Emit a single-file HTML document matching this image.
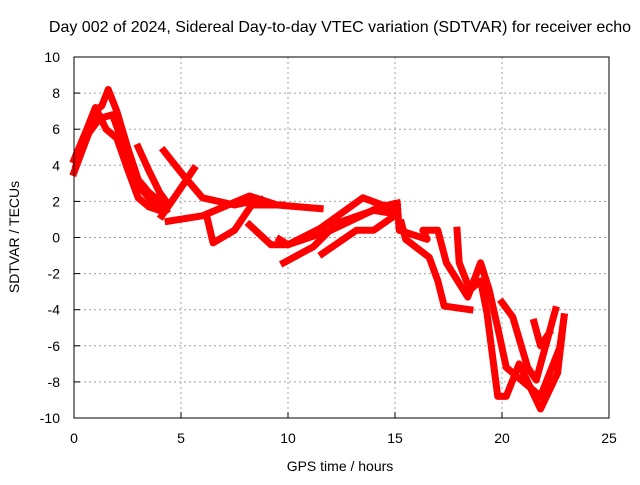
<!DOCTYPE html>
<html><head><meta charset="utf-8"><style>
body{margin:0;background:#fff}
svg text{font-family:"Liberation Sans",sans-serif;font-size:14px;fill:#000}
</style></head><body>
<svg id="c" width="640" height="480">
<text x="340" y="32" text-anchor="middle" style="font-size:16px">Day 002 of 2024, Sidereal Day-to-day VTEC variation (SDTVAR) for receiver echo</text>
<text x="340" y="471" text-anchor="middle">GPS time / hours</text>
<text transform="translate(19,237) rotate(-90)" text-anchor="middle">SDTVAR / TECUs</text>
<g id="grid"></g><g id="ticks"></g><g id="series"></g>
<rect x="74" y="57" width="535" height="361" fill="none" stroke="#000" stroke-width="1"/>
</svg>
<script>
const xTicks=[0,5,10,15,20,25];
const yTicks=[-10,-8,-6,-4,-2,0,2,4,6,8,10];
const trackA1=[[0,3.6],[0.5,5.2],[1,7],[1.3,7.3],[1.6,8.2],[2,7],[2.5,5],[3,3.2],[3.5,2.5],[4,2],[4.3,1.5]];
const trackA2=[[0,4.3],[0.6,6],[1,7.2],[1.5,6],[2,5.5],[2.5,3.8],[3,2.2],[3.5,1.7],[4,1.5]];
const trackA3=[[0.1,4],[0.7,5.8],[1.2,6.6],[1.8,6.8],[2.2,5.5],[2.7,4],[3.2,2.6],[3.8,1.8]];
const trackB=[[3.0,5.0],[3.5,3.7],[4.0,2.5],[4.3,2.0]];
const trackC=[[4.2,4.8],[5.0,3.6],[6.0,2.2],[7.5,1.8],[8.7,2.1]];
const trackD=[[4.1,1.2],[4.8,2.4],[5.6,3.8]];
const trackE=[[4.4,0.9],[6.0,1.2],[8.2,2.3],[9.5,1.8],[11.5,1.6]];
const trackF=[[6.2,1.2],[6.5,-0.3],[7.5,0.4],[8.3,1.8],[9.7,1.8]];
const trackG=[[8.2,0.7],[9.2,-0.4],[10,-0.4],[11.5,0.5],[13.5,2.2],[15.1,1.5]];
const trackH=[[9.6,-0.1],[10,-0.4],[12,0.4],[14.3,1.7],[15.1,1.9]];
const trackI=[[9.8,-1.4],[11.2,-0.5],[12.3,0.8],[14,1.5],[15.1,1.3]];
const trackJ=[[11.6,-0.9],[13.2,0.4],[14,0.4],[15.1,1.3]];
const trackK=[[15.1,1.9],[15.2,0.4],[16.5,-0.1],[16.3,0.4],[17,0.4],[17.4,-1.4],[18.4,-3.3],[19,-1.4],[19.4,-2.9],[19.8,-5],[20.2,-7.2],[21.8,-8.8],[22.7,-6.1],[22.9,-4.4]];
const trackL=[[15.3,0.8],[15.5,-0.1],[16.6,-1.1],[17,-2.4],[17.3,-3.8],[18.5,-4]];
const trackM=[[17.9,0.4],[18,-1.4],[18.5,-2.9],[19,-2.4],[19.3,-4.2],[19.8,-8.8],[20.2,-8.8],[20.8,-7],[21.8,-9.5],[22.6,-7.5],[22.9,-4.4]];
const trackN=[[20,-3.6],[20.5,-4.4],[21.2,-7.2],[21.6,-7.9],[22.2,-5.3],[22.5,-4]];
const trackO=[[21.5,-4.7],[21.8,-6],[22.2,-5.3]];
const tracks=[trackA1,trackA2,trackA3,trackB,trackC,trackD,trackE,trackF,trackG,trackH,trackI,trackJ,trackK,trackL,trackM,trackN,trackO];
const X0=74,X1=609,Y0=418,Y1=57;
const sx=h=>X0+(h-0)/(25-0)*(X1-X0);
const sy=v=>Y0-(v+10)/20*(Y0-Y1);
const NS="http://www.w3.org/2000/svg";
const grid=document.getElementById('grid'),ticks=document.getElementById('ticks'),ser=document.getElementById('series');
function mk(t,a,p){const e=document.createElementNS(NS,t);for(const k in a)e.setAttribute(k,a[k]);p.appendChild(e);return e;}
xTicks.forEach(t=>{const x=sx(t);
 if(t>0&&t<25){const g=mk('line',{x1:x,x2:x,y1:Y1,y2:Y0,stroke:'#a0a0a0','stroke-dasharray':'2,3'},grid);
 
 }
 mk('line',{x1:x,x2:x,y1:Y0,y2:Y0-6,stroke:'#000'},ticks);
 const l=mk('text',{x:x,y:443,'text-anchor':'middle'},ticks);l.textContent=t;
 
 });
yTicks.forEach(t=>{const y=sy(t);
 if(t>-10&&t<10){const g=mk('line',{x1:X0,x2:X1,y1:y,y2:y,stroke:'#a0a0a0','stroke-dasharray':'2,3'},grid);
 
 }
 mk('line',{x1:X0,x2:X0+6,y1:y,y2:y,stroke:'#000'},ticks);
 const l=mk('text',{x:60,y:y+5,'text-anchor':'end'},ticks);l.textContent=t;
 
 });
tracks.forEach(tr=>{const p=mk('polyline',{points:tr.map(d=>sx(d[0])+','+sy(d[1])).join(' '),fill:'none',stroke:'#ff0000','stroke-width':7,'stroke-linejoin':'round','stroke-linecap':'square'},ser);
 
 });
</script>
</body></html>
